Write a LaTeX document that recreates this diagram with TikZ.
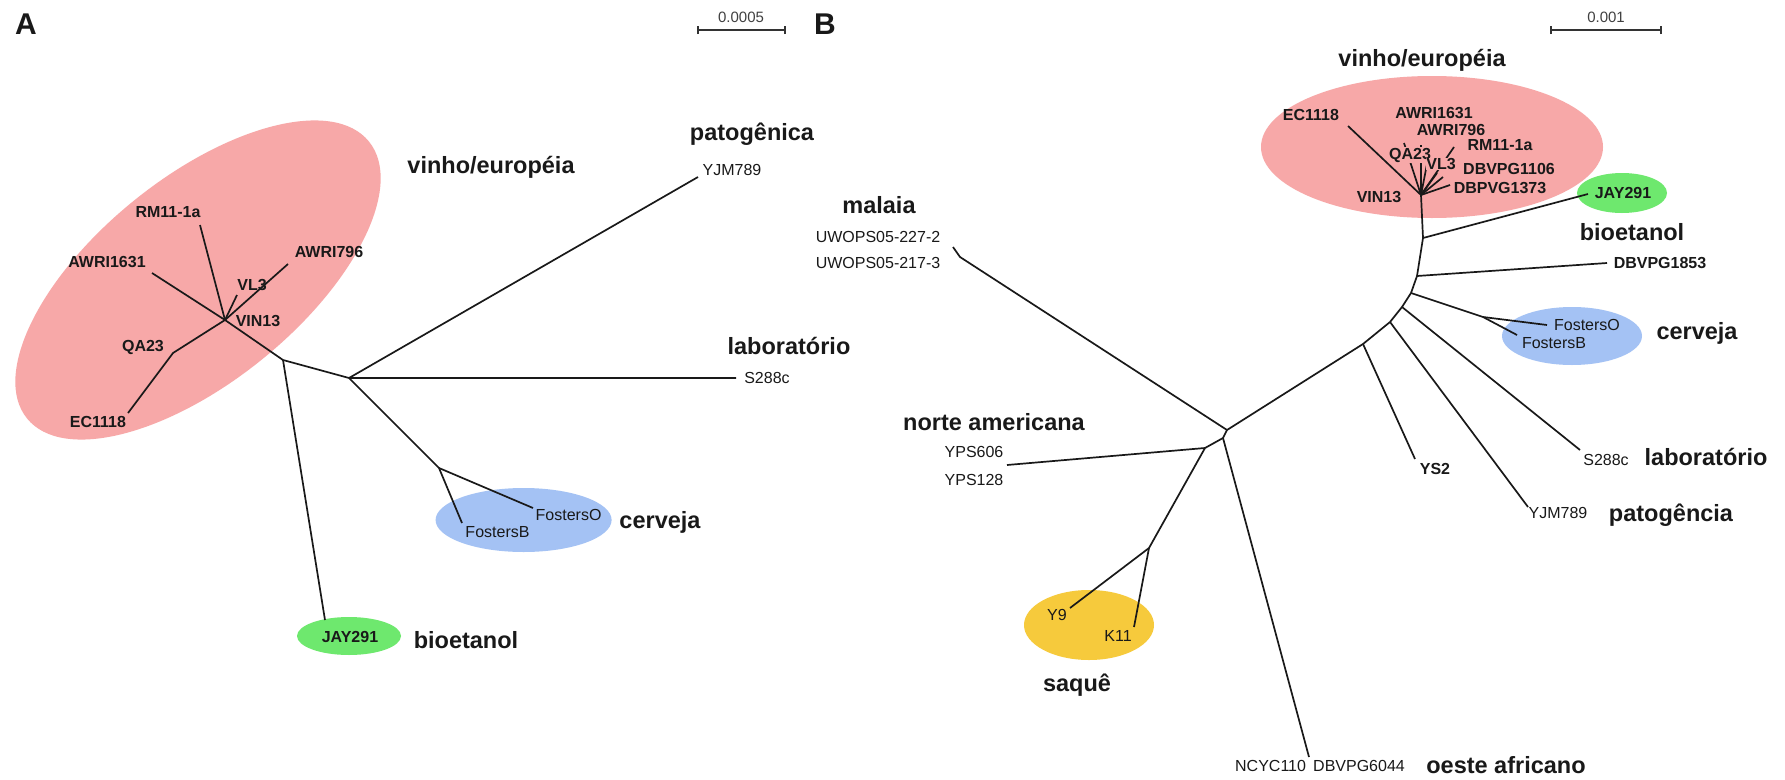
\documentclass[tikz,border=0pt]{standalone}
\usepackage{fontspec}
\setmainfont{Liberation Sans}
\definecolor{pinkA}{RGB}{247,168,168}
\definecolor{blueA}{RGB}{164,194,244}
\definecolor{greenA}{RGB}{110,232,110}
\definecolor{yellowA}{RGB}{246,202,60}
\definecolor{ink}{RGB}{25,25,25}
\tikzset{
  br/.style={line width=1.7pt, ink},
  strain/.style={font=\fontsize{16}{18}\selectfont\bfseries, text=ink, inner sep=0pt},
  strainr/.style={font=\fontsize{16}{18}\selectfont, text=ink, inner sep=0pt},
  grp/.style={font=\fontsize{23.5}{26}\selectfont\bfseries, text=ink, inner sep=0pt},
  panel/.style={font=\fontsize{30}{32}\selectfont\bfseries, text=ink, inner sep=0pt},
  scaletxt/.style={font=\fontsize{15}{17}\selectfont, text=black!75, inner sep=0pt},
  sbar/.style={line width=1.4pt, black!80},
}
\begin{document}
\begin{tikzpicture}[x=1pt,y=-1pt]
\useasboundingbox (0,0) rectangle (1785,779);
\fill[white] (0,0) rectangle (1785,779);

% ================= PANEL A =================
\node[panel] (pA) at (26,24) {A};
\coordinate (sa1) at (698,30); \coordinate (sa2) at (785,30);
\draw[sbar] (sa1) -- (sa2);
\draw[sbar] ([yshift=-4pt]sa1) -- ([yshift=4pt]sa1);
\draw[sbar] ([yshift=-4pt]sa2) -- ([yshift=4pt]sa2);
\node[scaletxt] (sta) at (741,17) {0.0005};

\fill[pinkA, rotate around={39:(198,280)}] (198,280) ellipse [x radius=220pt, y radius=102pt];
\fill[blueA] (523.6,520) ellipse [x radius=88pt, y radius=32pt];
\fill[greenA] (349,636) ellipse [x radius=52pt, y radius=19pt];

\coordinate (aN1) at (283,360);
\coordinate (aN2) at (349,378);
\coordinate (aHub) at (225,320);
\coordinate (aRM) at (200,225);
\coordinate (aAW1) at (152,273);
\coordinate (aAW7) at (288,264);
\coordinate (aVL) at (237,295);
\coordinate (aQA) at (173,353);
\coordinate (aEC) at (128,413);
\coordinate (aJAY) at (325,620);
\coordinate (aYJM) at (698,177);
\coordinate (aS288) at (736,378);
\coordinate (aNc) at (439,468);
\coordinate (aFB) at (462,523);
\coordinate (aFO) at (533,508);

\draw[br] (aAW1) -- (aHub) -- (aN1) -- (aN2) -- (aS288);
\draw[br] (aN1) -- (aJAY);
\draw[br] (aN2) -- (aYJM);
\draw[br] (aN2) -- (aNc) -- (aFB);
\draw[br] (aNc) -- (aFO);
\draw[br] (aHub) -- (aRM);
\draw[br] (aHub) -- (aVL);
\draw[br] (aHub) -- (aAW7);
\draw[br] (aHub) -- (aQA) -- (aEC);

\node[strain] (lRMa) at (168,212) {RM11-1a};
\node[strain] (lAW1a) at (107,262) {AWRI1631};
\node[strain] (lAW7a) at (329,252) {AWRI796};
\node[strain] (lVLa) at (252,285) {VL3};
\node[strain] (lVINa) at (258,321) {VIN13};
\node[strain] (lQAa) at (143,347) {QA23};
\node[strain] (lECa) at (98,422) {EC1118};
\node[strainr] (lYJMa) at (732,170) {YJM789};
\node[strainr] (lSa) at (767,378) {S288c};
\node[strainr] (lFOa) at (568.6,515) {FostersO};
\node[strainr] (lFBa) at (497.5,532) {FostersB};
\node[strain] (lJAYa) at (350,637) {JAY291};

\node[grp] (gWa) at (491,167) {vinho/européia};
\node[grp] (gPa) at (752,134) {patogênica};
\node[grp] (gLa) at (789,346) {laboratório};
\node[grp] (gCa) at (660,522) {cerveja};
\node[grp] (gBa) at (466,640) {bioetanol};

% ================= PANEL B =================
\node[panel] (pB) at (825,24) {B};
\coordinate (sb1) at (1551,30); \coordinate (sb2) at (1661,30);
\draw[sbar] (sb1) -- (sb2);
\draw[sbar] ([yshift=-4pt]sb1) -- ([yshift=4pt]sb1);
\draw[sbar] ([yshift=-4pt]sb2) -- ([yshift=4pt]sb2);
\node[scaletxt] (stb) at (1606,17) {0.001};

\fill[pinkA] (1432,147) ellipse [x radius=171pt, y radius=71pt];
\fill[greenA] (1622,193) ellipse [x radius=45pt, y radius=20pt];
\fill[blueA] (1572,336) ellipse [x radius=70pt, y radius=29pt];
\fill[yellowA] (1089,625) ellipse [x radius=65pt, y radius=35pt];

\coordinate (bHub) at (1421,195);
\coordinate (bEC) at (1348,126);
\coordinate (bAW1) at (1404,143);
\coordinate (bAW7) at (1421,145);
\coordinate (bRM) at (1454,147);
\coordinate (bVL) at (1427,164);
\coordinate (bF1) at (1437,173);
\coordinate (bF2) at (1443,177);
\coordinate (bF3) at (1450,185);
\coordinate (J1) at (1423,238);
\coordinate (J2) at (1417,276);
\coordinate (J3) at (1411,293);
\coordinate (J4) at (1402,307);
\coordinate (J5) at (1390,322);
\coordinate (J6) at (1363,344);
\coordinate (C1) at (1227,430);
\coordinate (C2) at (1223,438);
\coordinate (C3) at (1205,448);
\coordinate (bJAY) at (1588,194);
\coordinate (bD1853) at (1607,263);
\coordinate (bNf) at (1483,317);
\coordinate (bFO) at (1547,325);
\coordinate (bFB) at (1517,335);
\coordinate (bS288) at (1580,450);
\coordinate (bYJM) at (1528,507);
\coordinate (bYS2) at (1415,459);
\coordinate (bMalB) at (960,257);
\coordinate (bMal) at (953,247);
\coordinate (bWA) at (1309,757);
\coordinate (bYPS) at (1007,465);
\coordinate (bSk) at (1149,548);
\coordinate (bY9) at (1070,608);
\coordinate (bK11) at (1134,627);

\draw[br] (bHub) -- (J1) -- (J2) -- (J3) -- (J4) -- (J5) -- (J6) -- (C1) -- (C2) -- (C3);
\draw[br] (bHub) -- (bEC);
\draw[br] (bHub) -- (bAW1);
\draw[br] (bHub) -- (bAW7);
\draw[br] (bHub) -- (bRM);
\draw[br] (bHub) -- (bVL);
\draw[br] (bHub) -- (bF1);
\draw[br] (bHub) -- (bF2);
\draw[br] (bHub) -- (bF3);
\draw[br] (J1) -- (bJAY);
\draw[br] (J2) -- (bD1853);
\draw[br] (J3) -- (bNf) -- (bFO);
\draw[br] (bNf) -- (bFB);
\draw[br] (J4) -- (bS288);
\draw[br] (J5) -- (bYJM);
\draw[br] (J6) -- (bYS2);
\draw[br] (C1) -- (bMalB) -- (bMal);
\draw[br] (C2) -- (bWA);
\draw[br] (C3) -- (bYPS);
\draw[br] (C3) -- (bSk) -- (bY9);
\draw[br] (bSk) -- (bK11);

\node[strain] (lECb) at (1311,115) {EC1118};
\node[strain] (lAW1b) at (1434,113) {AWRI1631};
\node[strain] (lAW7b) at (1451,130) {AWRI796};
\node[strain] (lRMb) at (1500,145) {RM11-1a};
\node[strain, fill=pinkA, inner sep=0.6pt] (lQAb) at (1410,155) {QA23};
\node[strain, fill=pinkA, inner sep=0.6pt] (lVLb) at (1441,164) {VL3};
\node[strain] (l1106) at (1509,169) {DBVPG1106};
\node[strain] (l1373) at (1500,188) {DBPVG1373};
\node[strain] (lVINb) at (1379,197) {VIN13};
\node[strain] (lJAYb) at (1623,193) {JAY291};
\node[strain] (l1853) at (1660,263) {DBVPG1853};
\node[strainr] (lFOb) at (1587,325) {FostersO};
\node[strainr] (lFBb) at (1554,343) {FostersB};
\node[strainr] (lSb) at (1606,460) {S288c};
\node[strainr] (lYJMb) at (1558,513) {YJM789};
\node[strain] (lYS2) at (1435,469) {YS2};
\node[strainr] (lU2) at (878,237) {UWOPS05-227-2};
\node[strainr] (lU3) at (878,263) {UWOPS05-217-3};
\node[strainr] (lY606) at (974,452) {YPS606};
\node[strainr] (lY128) at (974,480) {YPS128};
\node[strainr] (lY9) at (1057,615) {Y9};
\node[strainr] (lK11) at (1118,636) {K11};
\node[strainr] (lWA) at (1320,766) {NCYC110\hspace{0.45em}DBVPG6044};

\node[grp] (gWb) at (1422,60) {vinho/européia};
\node[grp] (gBb) at (1632,232) {bioetanol};
\node[grp] (gCb) at (1697,333) {cerveja};
\node[grp] (gLb) at (1706,457) {laboratório};
\node[grp] (gPb) at (1671,515) {patogência};
\node[grp] (gMb) at (879,205) {malaia};
\node[grp] (gNb) at (994,422) {norte americana};
\node[grp] (gSb) at (1077,685) {saquê};
\node[grp] (gOb) at (1506,765) {oeste africano};
\end{tikzpicture}
\end{document}
